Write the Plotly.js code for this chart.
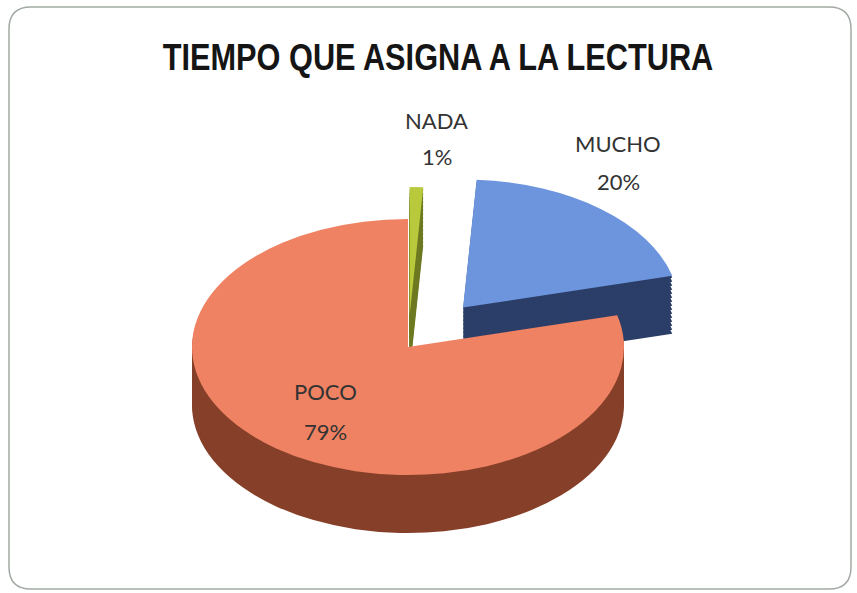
<!DOCTYPE html>
<html>
<head>
<meta charset="utf-8">
<script src="https://cdn.plot.ly/plotly-3.0.1.min.js"></script>
<style>
  html, body { margin: 0; padding: 0; background: #ffffff; }
  #chart { width: 857px; height: 593px; }
</style>
</head>
<body>
<div id="chart"></div>
<script>
// ---- data ----
const labels = ['MUCHO', 'POCO', 'NADA'];
const values = [20, 79, 1];
const titleText = 'TIEMPO QUE ASIGNA A LA LECTURA';

// ---- style ----
const topColors  = ['#6d95dd', '#ef8262', '#b9c93c'];
const sideColors = ['#2b3e68', '#86402a', '#6e7a22'];
const pulls = [0.4, 0, 0.25];
const W = 857, H = 593;
const CX = 408, CY = 347, RX = 216, RY = 128, DEPTH = 58, STEP = 4;
const TITLE_CX = 438, TITLE_SQUEEZE = 0.83;
// label positions in pixels [x, yLabel, yPercent]
const labelPos = { MUCHO: [618, 144, 182], POCO: [325, 392, 431], NADA: [437, 120, 156] };

const offsets = [];
for (let d = DEPTH; d > 0; d -= STEP) offsets.push(d);
offsets.push(0);

const traces = offsets.map(function (off) {
  return {
    type: 'pie',
    labels: labels,
    values: values,
    sort: false,
    direction: 'clockwise',
    rotation: 3.6,
    pull: pulls,
    textinfo: 'none',
    hoverinfo: 'skip',
    showlegend: false,
    marker: { colors: off === 0 ? topColors : sideColors, line: { width: 0 } },
    domain: { x: [0, 1], y: [0, 1] }
  };
});

const annotations = [];
labels.forEach(function (lab, i) {
  const p = labelPos[lab];
  annotations.push({
    text: lab, x: p[0] / W, y: 1 - p[1] / H, xref: 'paper', yref: 'paper',
    showarrow: false, xanchor: 'center', yanchor: 'middle',
    font: { family: 'Lato, "Noto Sans", sans-serif', size: 22, color: '#333333' }
  });
  annotations.push({
    text: values[i] + '%', x: p[0] / W, y: 1 - p[2] / H, xref: 'paper', yref: 'paper',
    showarrow: false, xanchor: 'center', yanchor: 'middle',
    font: { family: 'Lato, "Noto Sans", sans-serif', size: 22, color: '#333333' }
  });
});

// rounded border
function px(x) { return (x / W).toFixed(5); }
function py(y) { return (1 - y / H).toFixed(5); }
const L = 9, T = 7, R = 851, B = 589, rr = 22;
const borderPath =
  'M' + px(L + rr) + ',' + py(T) + ' L' + px(R - rr) + ',' + py(T) +
  ' Q' + px(R) + ',' + py(T) + ' ' + px(R) + ',' + py(T + rr) +
  ' L' + px(R) + ',' + py(B - rr) +
  ' Q' + px(R) + ',' + py(B) + ' ' + px(R - rr) + ',' + py(B) +
  ' L' + px(L + rr) + ',' + py(B) +
  ' Q' + px(L) + ',' + py(B) + ' ' + px(L) + ',' + py(B - rr) +
  ' L' + px(L) + ',' + py(T + rr) +
  ' Q' + px(L) + ',' + py(T) + ' ' + px(L + rr) + ',' + py(T) + ' Z';

const layout = {
  width: W, height: H,
  margin: { l: 0, r: 0, t: 0, b: 0 },
  paper_bgcolor: '#ffffff',
  plot_bgcolor: '#ffffff',
  title: {
    text: '<b>' + titleText + '</b>',
    x: TITLE_CX / W, xref: 'paper', xanchor: 'center',
    y: 1 - 57 / H, yref: 'container', yanchor: 'middle',
    font: { family: '"Liberation Sans", Arial, sans-serif', size: 37, color: '#151515' }
  },
  annotations: annotations,
  shapes: [{
    type: 'path', xref: 'paper', yref: 'paper', path: borderPath,
    line: { color: '#a3aaa3', width: 1.5 }, fillcolor: 'rgba(0,0,0,0)', layer: 'below'
  }]
};

const gd = document.getElementById('chart');
Plotly.newPlot(gd, traces, layout, { staticPlot: true, displayModeBar: false }).then(function () {
  const groups = gd.querySelectorAll('.pielayer .trace');
  groups.forEach(function (g, i) {
    const cd0 = gd.calcdata[i][0];
    const cx = cd0.cx, cy = cd0.cy, r = cd0.r;
    const sx = RX / r, sy = RY / r;
    g.setAttribute('transform',
      'translate(' + CX + ',' + (CY + offsets[i]) + ') scale(' + sx + ',' + sy + ') translate(' + (-cx) + ',' + (-cy) + ')');
  });
  // narrow the title like a condensed typeface
  const t = gd.querySelector('.gtitle');
  if (t) {
    t.setAttribute('transform',
      'translate(' + TITLE_CX + ',0) scale(' + TITLE_SQUEEZE + ',1) translate(' + (-TITLE_CX) + ',0)');
  }
});
</script>
</body>
</html>
